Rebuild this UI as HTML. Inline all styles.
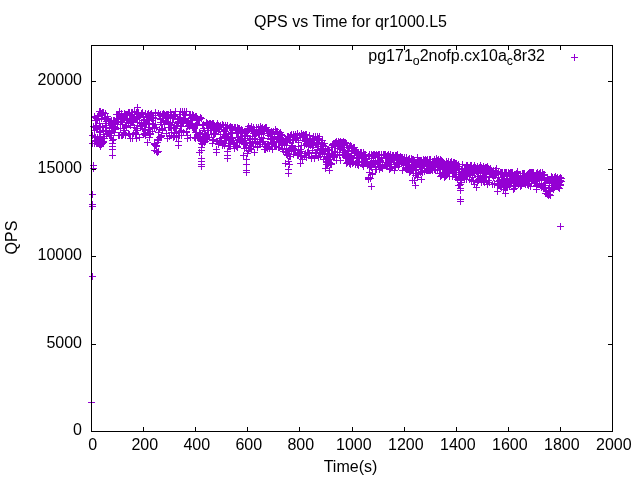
<!DOCTYPE html>
<html><head><meta charset="utf-8"><style>
html,body{margin:0;padding:0;background:#fff;width:640px;height:480px;overflow:hidden}
svg{display:block;will-change:transform}
text{font-family:"Liberation Sans",sans-serif;font-size:16px;fill:#000}
</style></head><body>
<svg width="640" height="480" viewBox="0 0 640 480">
<rect width="640" height="480" fill="#fff"/>
<path d="M90 126.5h7M93.5 123v7M91 116.5h7M94.5 113v7M91 143.5h7M94.5 140v7M91 117.5h7M94.5 114v7M91 130.5h7M94.5 127v7M92 127.5h7M95.5 124v7M92 120.5h7M95.5 117v7M92 137.5h7M95.5 134v7M92 126.5h7M95.5 123v7M93 128.5h7M96.5 125v7M93 118.5h7M96.5 115v7M93 125.5h7M96.5 122v7M93 129.5h7M96.5 126v7M94 137.5h7M97.5 134v7M94 116.5h7M97.5 113v7M94 119.5h7M97.5 116v7M95 141.5h7M98.5 138v7M95 115.5h7M98.5 112v7M95 116.5h7M98.5 113v7M95 116.5h7M98.5 113v7M96 144.5h7M99.5 141v7M96 123.5h7M99.5 120v7M96 132.5h7M99.5 129v7M96 111.5h7M99.5 108v7M97 146.5h7M100.5 143v7M97 131.5h7M100.5 128v7M97 111.5h7M100.5 108v7M97 127.5h7M100.5 124v7M98 118.5h7M101.5 115v7M98 114.5h7M101.5 111v7M98 144.5h7M101.5 141v7M98 113.5h7M101.5 110v7M99 114.5h7M102.5 111v7M99 126.5h7M102.5 123v7M99 112.5h7M102.5 109v7M99 114.5h7M102.5 111v7M100 112.5h7M103.5 109v7M100 130.5h7M103.5 127v7M100 134.5h7M103.5 131v7M101 117.5h7M104.5 114v7M101 138.5h7M104.5 135v7M101 118.5h7M104.5 115v7M101 117.5h7M104.5 114v7M102 113.5h7M105.5 110v7M102 119.5h7M105.5 116v7M102 131.5h7M105.5 128v7M102 123.5h7M105.5 120v7M103 127.5h7M106.5 124v7M103 134.5h7M106.5 131v7M103 125.5h7M106.5 122v7M103 121.5h7M106.5 118v7M104 133.5h7M107.5 130v7M104 116.5h7M107.5 113v7M104 118.5h7M107.5 115v7M104 118.5h7M107.5 115v7M105 121.5h7M108.5 118v7M105 133.5h7M108.5 130v7M105 120.5h7M108.5 117v7M105 119.5h7M108.5 116v7M106 121.5h7M109.5 118v7M106 135.5h7M109.5 132v7M106 128.5h7M109.5 125v7M106 135.5h7M109.5 132v7M107 133.5h7M110.5 130v7M107 135.5h7M110.5 132v7M107 121.5h7M110.5 118v7M108 122.5h7M111.5 119v7M108 120.5h7M111.5 117v7M108 131.5h7M111.5 128v7M108 135.5h7M111.5 132v7M109 123.5h7M112.5 120v7M109 123.5h7M112.5 120v7M109 130.5h7M112.5 127v7M109 125.5h7M112.5 122v7M110 126.5h7M113.5 123v7M110 120.5h7M113.5 117v7M110 139.5h7M113.5 136v7M110 127.5h7M113.5 124v7M111 120.5h7M114.5 117v7M111 129.5h7M114.5 126v7M111 132.5h7M114.5 129v7M111 128.5h7M114.5 125v7M112 129.5h7M115.5 126v7M112 123.5h7M115.5 120v7M112 122.5h7M115.5 119v7M112 127.5h7M115.5 124v7M113 121.5h7M116.5 118v7M113 114.5h7M116.5 111v7M113 118.5h7M116.5 115v7M114 124.5h7M117.5 121v7M114 119.5h7M117.5 116v7M114 114.5h7M117.5 111v7M114 119.5h7M117.5 116v7M115 121.5h7M118.5 118v7M115 121.5h7M118.5 118v7M115 114.5h7M118.5 111v7M115 135.5h7M118.5 132v7M116 135.5h7M119.5 132v7M116 111.5h7M119.5 108v7M116 114.5h7M119.5 111v7M116 115.5h7M119.5 112v7M117 122.5h7M120.5 119v7M117 116.5h7M120.5 113v7M117 128.5h7M120.5 125v7M117 119.5h7M120.5 116v7M118 135.5h7M121.5 132v7M118 114.5h7M121.5 111v7M118 121.5h7M121.5 118v7M118 113.5h7M121.5 110v7M119 118.5h7M122.5 115v7M119 124.5h7M122.5 121v7M119 135.5h7M122.5 132v7M120 132.5h7M123.5 129v7M120 118.5h7M123.5 115v7M120 134.5h7M123.5 131v7M120 128.5h7M123.5 125v7M121 114.5h7M124.5 111v7M121 113.5h7M124.5 110v7M121 130.5h7M124.5 127v7M121 119.5h7M124.5 116v7M122 133.5h7M125.5 130v7M122 135.5h7M125.5 132v7M122 125.5h7M125.5 122v7M122 114.5h7M125.5 111v7M123 127.5h7M126.5 124v7M123 126.5h7M126.5 123v7M123 119.5h7M126.5 116v7M123 114.5h7M126.5 111v7M124 114.5h7M127.5 111v7M124 120.5h7M127.5 117v7M124 114.5h7M127.5 111v7M124 118.5h7M127.5 115v7M125 112.5h7M128.5 109v7M125 123.5h7M128.5 120v7M125 133.5h7M128.5 130v7M126 134.5h7M129.5 131v7M126 120.5h7M129.5 117v7M126 118.5h7M129.5 115v7M126 112.5h7M129.5 109v7M127 115.5h7M130.5 112v7M127 138.5h7M130.5 135v7M127 119.5h7M130.5 116v7M127 125.5h7M130.5 122v7M128 112.5h7M131.5 109v7M128 121.5h7M131.5 118v7M128 118.5h7M131.5 115v7M128 112.5h7M131.5 109v7M129 138.5h7M132.5 135v7M129 112.5h7M132.5 109v7M129 117.5h7M132.5 114v7M129 122.5h7M132.5 119v7M130 117.5h7M133.5 114v7M130 122.5h7M133.5 119v7M130 133.5h7M133.5 130v7M130 118.5h7M133.5 115v7M131 111.5h7M134.5 108v7M131 127.5h7M134.5 124v7M131 117.5h7M134.5 114v7M132 119.5h7M135.5 116v7M132 132.5h7M135.5 129v7M132 134.5h7M135.5 131v7M132 133.5h7M135.5 130v7M133 112.5h7M136.5 109v7M133 118.5h7M136.5 115v7M133 119.5h7M136.5 116v7M133 128.5h7M136.5 125v7M134 125.5h7M137.5 122v7M134 107.5h7M137.5 104v7M134 118.5h7M137.5 115v7M134 130.5h7M137.5 127v7M135 112.5h7M138.5 109v7M135 112.5h7M138.5 109v7M135 113.5h7M138.5 110v7M135 114.5h7M138.5 111v7M136 122.5h7M139.5 119v7M136 117.5h7M139.5 114v7M136 117.5h7M139.5 114v7M136 137.5h7M139.5 134v7M137 115.5h7M140.5 112v7M137 125.5h7M140.5 122v7M137 115.5h7M140.5 112v7M137 126.5h7M140.5 123v7M138 123.5h7M141.5 120v7M138 113.5h7M141.5 110v7M138 126.5h7M141.5 123v7M139 128.5h7M142.5 125v7M139 112.5h7M142.5 109v7M139 126.5h7M142.5 123v7M139 125.5h7M142.5 122v7M140 116.5h7M143.5 113v7M140 120.5h7M143.5 117v7M140 134.5h7M143.5 131v7M140 117.5h7M143.5 114v7M141 133.5h7M144.5 130v7M141 129.5h7M144.5 126v7M141 119.5h7M144.5 116v7M141 129.5h7M144.5 126v7M142 113.5h7M145.5 110v7M142 124.5h7M145.5 121v7M142 130.5h7M145.5 127v7M142 135.5h7M145.5 132v7M143 121.5h7M146.5 118v7M143 124.5h7M146.5 121v7M143 120.5h7M146.5 117v7M143 120.5h7M146.5 117v7M144 132.5h7M147.5 129v7M144 119.5h7M147.5 116v7M144 114.5h7M147.5 111v7M145 116.5h7M148.5 113v7M145 123.5h7M148.5 120v7M145 113.5h7M148.5 110v7M145 129.5h7M148.5 126v7M146 127.5h7M149.5 124v7M146 119.5h7M149.5 116v7M146 115.5h7M149.5 112v7M146 137.5h7M149.5 134v7M147 134.5h7M150.5 131v7M147 131.5h7M150.5 128v7M147 133.5h7M150.5 130v7M147 114.5h7M150.5 111v7M148 115.5h7M151.5 112v7M148 113.5h7M151.5 110v7M148 113.5h7M151.5 110v7M148 118.5h7M151.5 115v7M149 120.5h7M152.5 117v7M149 131.5h7M152.5 128v7M149 123.5h7M152.5 120v7M149 117.5h7M152.5 114v7M150 117.5h7M153.5 114v7M150 124.5h7M153.5 121v7M150 118.5h7M153.5 115v7M151 150.5h7M154.5 147v7M151 128.5h7M154.5 125v7M151 144.5h7M154.5 141v7M151 143.5h7M154.5 140v7M152 112.5h7M155.5 109v7M152 124.5h7M155.5 121v7M152 118.5h7M155.5 115v7M152 145.5h7M155.5 142v7M153 146.5h7M156.5 143v7M153 127.5h7M156.5 124v7M153 151.5h7M156.5 148v7M153 145.5h7M156.5 142v7M154 152.5h7M157.5 149v7M154 152.5h7M157.5 149v7M154 142.5h7M157.5 139v7M154 139.5h7M157.5 136v7M155 140.5h7M158.5 137v7M155 151.5h7M158.5 148v7M155 132.5h7M158.5 129v7M155 113.5h7M158.5 110v7M156 115.5h7M159.5 112v7M156 137.5h7M159.5 134v7M156 129.5h7M159.5 126v7M157 137.5h7M160.5 134v7M157 114.5h7M160.5 111v7M157 119.5h7M160.5 116v7M157 122.5h7M160.5 119v7M158 136.5h7M161.5 133v7M158 124.5h7M161.5 121v7M158 136.5h7M161.5 133v7M158 135.5h7M161.5 132v7M159 128.5h7M162.5 125v7M159 114.5h7M162.5 111v7M159 129.5h7M162.5 126v7M159 130.5h7M162.5 127v7M160 113.5h7M163.5 110v7M160 120.5h7M163.5 117v7M160 116.5h7M163.5 113v7M160 118.5h7M163.5 115v7M161 115.5h7M164.5 112v7M161 124.5h7M164.5 121v7M161 114.5h7M164.5 111v7M161 115.5h7M164.5 112v7M162 115.5h7M165.5 112v7M162 115.5h7M165.5 112v7M162 121.5h7M165.5 118v7M163 118.5h7M166.5 115v7M163 114.5h7M166.5 111v7M163 115.5h7M166.5 112v7M163 133.5h7M166.5 130v7M164 115.5h7M167.5 112v7M164 138.5h7M167.5 135v7M164 118.5h7M167.5 115v7M164 114.5h7M167.5 111v7M165 127.5h7M168.5 124v7M165 122.5h7M168.5 119v7M165 114.5h7M168.5 111v7M165 123.5h7M168.5 120v7M166 136.5h7M169.5 133v7M166 124.5h7M169.5 121v7M166 127.5h7M169.5 124v7M166 124.5h7M169.5 121v7M167 118.5h7M170.5 115v7M167 112.5h7M170.5 109v7M167 127.5h7M170.5 124v7M167 116.5h7M170.5 113v7M168 114.5h7M171.5 111v7M168 132.5h7M171.5 129v7M168 135.5h7M171.5 132v7M168 127.5h7M171.5 124v7M169 122.5h7M172.5 119v7M169 122.5h7M172.5 119v7M169 117.5h7M172.5 114v7M170 127.5h7M173.5 124v7M170 118.5h7M173.5 115v7M170 115.5h7M173.5 112v7M170 137.5h7M173.5 134v7M171 133.5h7M174.5 130v7M171 114.5h7M174.5 111v7M171 127.5h7M174.5 124v7M171 136.5h7M174.5 133v7M172 128.5h7M175.5 125v7M172 114.5h7M175.5 111v7M172 116.5h7M175.5 113v7M172 111.5h7M175.5 108v7M173 125.5h7M176.5 122v7M173 132.5h7M176.5 129v7M173 132.5h7M176.5 129v7M173 137.5h7M176.5 134v7M174 119.5h7M177.5 116v7M174 118.5h7M177.5 115v7M174 123.5h7M177.5 120v7M174 118.5h7M177.5 115v7M175 121.5h7M178.5 118v7M175 135.5h7M178.5 132v7M175 119.5h7M178.5 116v7M176 135.5h7M179.5 132v7M176 131.5h7M179.5 128v7M176 119.5h7M179.5 116v7M176 114.5h7M179.5 111v7M177 122.5h7M180.5 119v7M177 117.5h7M180.5 114v7M177 126.5h7M180.5 123v7M177 111.5h7M180.5 108v7M178 130.5h7M181.5 127v7M178 122.5h7M181.5 119v7M178 123.5h7M181.5 120v7M178 135.5h7M181.5 132v7M179 123.5h7M182.5 120v7M179 123.5h7M182.5 120v7M179 112.5h7M182.5 109v7M179 111.5h7M182.5 108v7M180 114.5h7M183.5 111v7M180 123.5h7M183.5 120v7M180 132.5h7M183.5 129v7M180 118.5h7M183.5 115v7M181 118.5h7M184.5 115v7M181 111.5h7M184.5 108v7M181 118.5h7M184.5 115v7M182 115.5h7M185.5 112v7M182 114.5h7M185.5 111v7M182 120.5h7M185.5 117v7M182 119.5h7M185.5 116v7M183 132.5h7M186.5 129v7M183 131.5h7M186.5 128v7M183 123.5h7M186.5 120v7M183 111.5h7M186.5 108v7M184 122.5h7M187.5 119v7M184 135.5h7M187.5 132v7M184 138.5h7M187.5 135v7M184 126.5h7M187.5 123v7M185 121.5h7M188.5 118v7M185 122.5h7M188.5 119v7M185 125.5h7M188.5 122v7M185 120.5h7M188.5 117v7M186 114.5h7M189.5 111v7M186 126.5h7M189.5 123v7M186 115.5h7M189.5 112v7M186 123.5h7M189.5 120v7M187 114.5h7M190.5 111v7M187 120.5h7M190.5 117v7M187 137.5h7M190.5 134v7M188 124.5h7M191.5 121v7M188 124.5h7M191.5 121v7M188 117.5h7M191.5 114v7M188 124.5h7M191.5 121v7M189 127.5h7M192.5 124v7M189 114.5h7M192.5 111v7M189 118.5h7M192.5 115v7M189 120.5h7M192.5 117v7M190 115.5h7M193.5 112v7M190 115.5h7M193.5 112v7M190 128.5h7M193.5 125v7M190 116.5h7M193.5 113v7M191 137.5h7M194.5 134v7M191 128.5h7M194.5 125v7M191 127.5h7M194.5 124v7M191 117.5h7M194.5 114v7M192 116.5h7M195.5 113v7M192 132.5h7M195.5 129v7M192 125.5h7M195.5 122v7M192 138.5h7M195.5 135v7M193 116.5h7M196.5 113v7M193 132.5h7M196.5 129v7M193 123.5h7M196.5 120v7M194 137.5h7M197.5 134v7M194 118.5h7M197.5 115v7M194 124.5h7M197.5 121v7M194 120.5h7M197.5 117v7M195 120.5h7M198.5 117v7M195 138.5h7M198.5 135v7M195 120.5h7M198.5 117v7M195 136.5h7M198.5 133v7M196 132.5h7M199.5 129v7M196 119.5h7M199.5 116v7M196 152.5h7M199.5 149v7M196 138.5h7M199.5 135v7M197 117.5h7M200.5 114v7M197 137.5h7M200.5 134v7M197 139.5h7M200.5 136v7M197 133.5h7M200.5 130v7M198 143.5h7M201.5 140v7M198 118.5h7M201.5 115v7M198 150.5h7M201.5 147v7M198 147.5h7M201.5 144v7M199 134.5h7M202.5 131v7M199 140.5h7M202.5 137v7M199 125.5h7M202.5 122v7M199 144.5h7M202.5 141v7M200 124.5h7M203.5 121v7M200 125.5h7M203.5 122v7M200 128.5h7M203.5 125v7M201 133.5h7M204.5 130v7M201 136.5h7M204.5 133v7M201 142.5h7M204.5 139v7M201 130.5h7M204.5 127v7M202 134.5h7M205.5 131v7M202 141.5h7M205.5 138v7M202 141.5h7M205.5 138v7M202 137.5h7M205.5 134v7M203 122.5h7M206.5 119v7M203 135.5h7M206.5 132v7M203 124.5h7M206.5 121v7M203 138.5h7M206.5 135v7M204 130.5h7M207.5 127v7M204 123.5h7M207.5 120v7M204 139.5h7M207.5 136v7M204 134.5h7M207.5 131v7M205 130.5h7M208.5 127v7M205 124.5h7M208.5 121v7M205 134.5h7M208.5 131v7M205 134.5h7M208.5 131v7M206 137.5h7M209.5 134v7M206 123.5h7M209.5 120v7M206 125.5h7M209.5 122v7M207 123.5h7M210.5 120v7M207 130.5h7M210.5 127v7M207 124.5h7M210.5 121v7M207 127.5h7M210.5 124v7M208 125.5h7M211.5 122v7M208 127.5h7M211.5 124v7M208 134.5h7M211.5 131v7M208 124.5h7M211.5 121v7M209 127.5h7M212.5 124v7M209 140.5h7M212.5 137v7M209 123.5h7M212.5 120v7M209 143.5h7M212.5 140v7M210 129.5h7M213.5 126v7M210 123.5h7M213.5 120v7M210 133.5h7M213.5 130v7M210 139.5h7M213.5 136v7M211 130.5h7M214.5 127v7M211 127.5h7M214.5 124v7M211 134.5h7M214.5 131v7M211 125.5h7M214.5 122v7M212 129.5h7M215.5 126v7M212 126.5h7M215.5 123v7M212 133.5h7M215.5 130v7M213 131.5h7M216.5 128v7M213 141.5h7M216.5 138v7M213 129.5h7M216.5 126v7M213 125.5h7M216.5 122v7M214 123.5h7M217.5 120v7M214 125.5h7M217.5 122v7M214 128.5h7M217.5 125v7M214 141.5h7M217.5 138v7M215 125.5h7M218.5 122v7M215 144.5h7M218.5 141v7M215 129.5h7M218.5 126v7M215 144.5h7M218.5 141v7M216 140.5h7M219.5 137v7M216 129.5h7M219.5 126v7M216 127.5h7M219.5 124v7M216 126.5h7M219.5 123v7M217 141.5h7M220.5 138v7M217 125.5h7M220.5 122v7M217 138.5h7M220.5 135v7M217 134.5h7M220.5 131v7M218 127.5h7M221.5 124v7M218 141.5h7M221.5 138v7M218 127.5h7M221.5 124v7M219 144.5h7M222.5 141v7M219 124.5h7M222.5 121v7M219 145.5h7M222.5 142v7M219 144.5h7M222.5 141v7M220 131.5h7M223.5 128v7M220 143.5h7M223.5 140v7M220 127.5h7M223.5 124v7M220 125.5h7M223.5 122v7M221 130.5h7M224.5 127v7M221 145.5h7M224.5 142v7M221 136.5h7M224.5 133v7M221 137.5h7M224.5 134v7M222 125.5h7M225.5 122v7M222 135.5h7M225.5 132v7M222 131.5h7M225.5 128v7M222 143.5h7M225.5 140v7M223 127.5h7M226.5 124v7M223 140.5h7M226.5 137v7M223 138.5h7M226.5 135v7M223 133.5h7M226.5 130v7M224 136.5h7M227.5 133v7M224 128.5h7M227.5 125v7M224 125.5h7M227.5 122v7M225 146.5h7M228.5 143v7M225 134.5h7M228.5 131v7M225 137.5h7M228.5 134v7M225 139.5h7M228.5 136v7M226 146.5h7M229.5 143v7M226 127.5h7M229.5 124v7M226 127.5h7M229.5 124v7M226 143.5h7M229.5 140v7M227 126.5h7M230.5 123v7M227 139.5h7M230.5 136v7M227 133.5h7M230.5 130v7M227 146.5h7M230.5 143v7M228 127.5h7M231.5 124v7M228 141.5h7M231.5 138v7M228 132.5h7M231.5 129v7M228 133.5h7M231.5 130v7M229 132.5h7M232.5 129v7M229 138.5h7M232.5 135v7M229 138.5h7M232.5 135v7M229 127.5h7M232.5 124v7M230 144.5h7M233.5 141v7M230 142.5h7M233.5 139v7M230 142.5h7M233.5 139v7M230 140.5h7M233.5 137v7M231 148.5h7M234.5 145v7M231 143.5h7M234.5 140v7M231 127.5h7M234.5 124v7M232 129.5h7M235.5 126v7M232 128.5h7M235.5 125v7M232 127.5h7M235.5 124v7M232 130.5h7M235.5 127v7M233 146.5h7M236.5 143v7M233 133.5h7M236.5 130v7M233 145.5h7M236.5 142v7M233 130.5h7M236.5 127v7M234 147.5h7M237.5 144v7M234 127.5h7M237.5 124v7M234 137.5h7M237.5 134v7M234 146.5h7M237.5 143v7M235 128.5h7M238.5 125v7M235 132.5h7M238.5 129v7M235 139.5h7M238.5 136v7M235 133.5h7M238.5 130v7M236 141.5h7M239.5 138v7M236 128.5h7M239.5 125v7M236 130.5h7M239.5 127v7M236 142.5h7M239.5 139v7M237 131.5h7M240.5 128v7M237 132.5h7M240.5 129v7M237 138.5h7M240.5 135v7M238 140.5h7M241.5 137v7M238 129.5h7M241.5 126v7M238 130.5h7M241.5 127v7M238 131.5h7M241.5 128v7M239 139.5h7M242.5 136v7M239 130.5h7M242.5 127v7M239 133.5h7M242.5 130v7M239 136.5h7M242.5 133v7M240 141.5h7M243.5 138v7M240 143.5h7M243.5 140v7M240 142.5h7M243.5 139v7M240 155.5h7M243.5 152v7M241 135.5h7M244.5 132v7M241 148.5h7M244.5 145v7M241 133.5h7M244.5 130v7M241 144.5h7M244.5 141v7M242 143.5h7M245.5 140v7M242 131.5h7M245.5 128v7M242 131.5h7M245.5 128v7M242 140.5h7M245.5 137v7M243 148.5h7M246.5 145v7M243 147.5h7M246.5 144v7M243 132.5h7M246.5 129v7M244 135.5h7M247.5 132v7M244 136.5h7M247.5 133v7M244 128.5h7M247.5 125v7M244 153.5h7M247.5 150v7M245 150.5h7M248.5 147v7M245 150.5h7M248.5 147v7M245 130.5h7M248.5 127v7M245 126.5h7M248.5 123v7M246 138.5h7M249.5 135v7M246 148.5h7M249.5 145v7M246 145.5h7M249.5 142v7M246 128.5h7M249.5 125v7M247 128.5h7M250.5 125v7M247 139.5h7M250.5 136v7M247 142.5h7M250.5 139v7M247 148.5h7M250.5 145v7M248 149.5h7M251.5 146v7M248 129.5h7M251.5 126v7M248 146.5h7M251.5 143v7M248 126.5h7M251.5 123v7M249 136.5h7M252.5 133v7M249 141.5h7M252.5 138v7M249 129.5h7M252.5 126v7M250 129.5h7M253.5 126v7M250 146.5h7M253.5 143v7M250 127.5h7M253.5 124v7M250 133.5h7M253.5 130v7M251 152.5h7M254.5 149v7M251 129.5h7M254.5 126v7M251 133.5h7M254.5 130v7M251 138.5h7M254.5 135v7M252 133.5h7M255.5 130v7M252 143.5h7M255.5 140v7M252 133.5h7M255.5 130v7M252 139.5h7M255.5 136v7M253 132.5h7M256.5 129v7M253 127.5h7M256.5 124v7M253 129.5h7M256.5 126v7M253 133.5h7M256.5 130v7M254 147.5h7M257.5 144v7M254 132.5h7M257.5 129v7M254 142.5h7M257.5 139v7M254 146.5h7M257.5 143v7M255 130.5h7M258.5 127v7M255 127.5h7M258.5 124v7M255 133.5h7M258.5 130v7M256 134.5h7M259.5 131v7M256 144.5h7M259.5 141v7M256 141.5h7M259.5 138v7M256 133.5h7M259.5 130v7M257 141.5h7M260.5 138v7M257 126.5h7M260.5 123v7M257 144.5h7M260.5 141v7M257 130.5h7M260.5 127v7M258 128.5h7M261.5 125v7M258 130.5h7M261.5 127v7M258 137.5h7M261.5 134v7M258 129.5h7M261.5 126v7M259 142.5h7M262.5 139v7M259 131.5h7M262.5 128v7M259 127.5h7M262.5 124v7M259 127.5h7M262.5 124v7M260 141.5h7M263.5 138v7M260 138.5h7M263.5 135v7M260 129.5h7M263.5 126v7M260 133.5h7M263.5 130v7M261 128.5h7M264.5 125v7M261 146.5h7M264.5 143v7M261 149.5h7M264.5 146v7M261 131.5h7M264.5 128v7M262 149.5h7M265.5 146v7M262 146.5h7M265.5 143v7M262 127.5h7M265.5 124v7M263 127.5h7M266.5 124v7M263 146.5h7M266.5 143v7M263 127.5h7M266.5 124v7M263 147.5h7M266.5 144v7M264 148.5h7M267.5 145v7M264 147.5h7M267.5 144v7M264 144.5h7M267.5 141v7M264 131.5h7M267.5 128v7M265 131.5h7M268.5 128v7M265 144.5h7M268.5 141v7M265 130.5h7M268.5 127v7M265 135.5h7M268.5 132v7M266 132.5h7M269.5 129v7M266 146.5h7M269.5 143v7M266 147.5h7M269.5 144v7M266 148.5h7M269.5 145v7M267 138.5h7M270.5 135v7M267 132.5h7M270.5 129v7M267 139.5h7M270.5 136v7M267 136.5h7M270.5 133v7M268 143.5h7M271.5 140v7M268 131.5h7M271.5 128v7M268 136.5h7M271.5 133v7M269 136.5h7M272.5 133v7M269 133.5h7M272.5 130v7M269 149.5h7M272.5 146v7M269 142.5h7M272.5 139v7M270 131.5h7M273.5 128v7M270 143.5h7M273.5 140v7M270 139.5h7M273.5 136v7M270 131.5h7M273.5 128v7M271 134.5h7M274.5 131v7M271 138.5h7M274.5 135v7M271 142.5h7M274.5 139v7M271 146.5h7M274.5 143v7M272 129.5h7M275.5 126v7M272 131.5h7M275.5 128v7M272 146.5h7M275.5 143v7M272 131.5h7M275.5 128v7M273 142.5h7M276.5 139v7M273 131.5h7M276.5 128v7M273 142.5h7M276.5 139v7M273 146.5h7M276.5 143v7M274 138.5h7M277.5 135v7M274 136.5h7M277.5 133v7M274 131.5h7M277.5 128v7M275 137.5h7M278.5 134v7M275 142.5h7M278.5 139v7M275 147.5h7M278.5 144v7M275 141.5h7M278.5 138v7M276 147.5h7M279.5 144v7M276 142.5h7M279.5 139v7M276 139.5h7M279.5 136v7M276 133.5h7M279.5 130v7M277 135.5h7M280.5 132v7M277 132.5h7M280.5 129v7M277 142.5h7M280.5 139v7M277 141.5h7M280.5 138v7M278 143.5h7M281.5 140v7M278 142.5h7M281.5 139v7M278 135.5h7M281.5 132v7M278 134.5h7M281.5 131v7M279 138.5h7M282.5 135v7M279 140.5h7M282.5 137v7M279 149.5h7M282.5 146v7M279 148.5h7M282.5 145v7M280 151.5h7M283.5 148v7M280 141.5h7M283.5 138v7M280 140.5h7M283.5 137v7M281 145.5h7M284.5 142v7M281 143.5h7M284.5 140v7M281 144.5h7M284.5 141v7M281 142.5h7M284.5 139v7M282 142.5h7M285.5 139v7M282 138.5h7M285.5 135v7M282 152.5h7M285.5 149v7M282 163.5h7M285.5 160v7M283 148.5h7M286.5 145v7M283 154.5h7M286.5 151v7M283 140.5h7M286.5 137v7M283 152.5h7M286.5 149v7M284 136.5h7M287.5 133v7M284 151.5h7M287.5 148v7M284 140.5h7M287.5 137v7M284 155.5h7M287.5 152v7M285 161.5h7M288.5 158v7M285 139.5h7M288.5 136v7M285 136.5h7M288.5 133v7M285 150.5h7M288.5 147v7M286 164.5h7M289.5 161v7M286 156.5h7M289.5 153v7M286 140.5h7M289.5 137v7M287 140.5h7M290.5 137v7M287 135.5h7M290.5 132v7M287 135.5h7M290.5 132v7M287 156.5h7M290.5 153v7M288 151.5h7M291.5 148v7M288 134.5h7M291.5 131v7M288 145.5h7M291.5 142v7M288 149.5h7M291.5 146v7M289 139.5h7M292.5 136v7M289 147.5h7M292.5 144v7M289 146.5h7M292.5 143v7M289 145.5h7M292.5 142v7M290 154.5h7M293.5 151v7M290 140.5h7M293.5 137v7M290 148.5h7M293.5 145v7M290 134.5h7M293.5 131v7M291 137.5h7M294.5 134v7M291 136.5h7M294.5 133v7M291 149.5h7M294.5 146v7M291 137.5h7M294.5 134v7M292 134.5h7M295.5 131v7M292 137.5h7M295.5 134v7M292 138.5h7M295.5 135v7M292 150.5h7M295.5 147v7M293 137.5h7M296.5 134v7M293 138.5h7M296.5 135v7M293 137.5h7M296.5 134v7M294 137.5h7M297.5 134v7M294 133.5h7M297.5 130v7M294 153.5h7M297.5 150v7M294 155.5h7M297.5 152v7M295 142.5h7M298.5 139v7M295 146.5h7M298.5 143v7M295 155.5h7M298.5 152v7M295 140.5h7M298.5 137v7M296 135.5h7M299.5 132v7M296 152.5h7M299.5 149v7M296 153.5h7M299.5 150v7M296 135.5h7M299.5 132v7M297 137.5h7M300.5 134v7M297 156.5h7M300.5 153v7M297 149.5h7M300.5 146v7M297 156.5h7M300.5 153v7M298 156.5h7M301.5 153v7M298 133.5h7M301.5 130v7M298 151.5h7M301.5 148v7M298 145.5h7M301.5 142v7M299 159.5h7M302.5 156v7M299 135.5h7M302.5 132v7M299 136.5h7M302.5 133v7M300 134.5h7M303.5 131v7M300 134.5h7M303.5 131v7M300 136.5h7M303.5 133v7M300 135.5h7M303.5 132v7M301 135.5h7M304.5 132v7M301 145.5h7M304.5 142v7M301 136.5h7M304.5 133v7M301 155.5h7M304.5 152v7M302 134.5h7M305.5 131v7M302 153.5h7M305.5 150v7M302 141.5h7M305.5 138v7M302 140.5h7M305.5 137v7M303 157.5h7M306.5 154v7M303 144.5h7M306.5 141v7M303 134.5h7M306.5 131v7M303 143.5h7M306.5 140v7M304 140.5h7M307.5 137v7M304 139.5h7M307.5 136v7M304 141.5h7M307.5 138v7M304 152.5h7M307.5 149v7M305 141.5h7M308.5 138v7M305 152.5h7M308.5 149v7M305 146.5h7M308.5 143v7M306 141.5h7M309.5 138v7M306 153.5h7M309.5 150v7M306 135.5h7M309.5 132v7M306 138.5h7M309.5 135v7M307 138.5h7M310.5 135v7M307 139.5h7M310.5 136v7M307 140.5h7M310.5 137v7M307 145.5h7M310.5 142v7M308 156.5h7M311.5 153v7M308 157.5h7M311.5 154v7M308 143.5h7M311.5 140v7M308 158.5h7M311.5 155v7M309 150.5h7M312.5 147v7M309 147.5h7M312.5 144v7M309 143.5h7M312.5 140v7M309 139.5h7M312.5 136v7M310 139.5h7M313.5 136v7M310 145.5h7M313.5 142v7M310 136.5h7M313.5 133v7M310 140.5h7M313.5 137v7M311 142.5h7M314.5 139v7M311 158.5h7M314.5 155v7M311 140.5h7M314.5 137v7M312 136.5h7M315.5 133v7M312 155.5h7M315.5 152v7M312 136.5h7M315.5 133v7M312 152.5h7M315.5 149v7M313 153.5h7M316.5 150v7M313 144.5h7M316.5 141v7M313 152.5h7M316.5 149v7M313 139.5h7M316.5 136v7M314 136.5h7M317.5 133v7M314 143.5h7M317.5 140v7M314 142.5h7M317.5 139v7M314 149.5h7M317.5 146v7M315 157.5h7M318.5 154v7M315 146.5h7M318.5 143v7M315 157.5h7M318.5 154v7M315 138.5h7M318.5 135v7M316 138.5h7M319.5 135v7M316 153.5h7M319.5 150v7M316 139.5h7M319.5 136v7M316 136.5h7M319.5 133v7M317 146.5h7M320.5 143v7M317 156.5h7M320.5 153v7M317 152.5h7M320.5 149v7M318 143.5h7M321.5 140v7M318 148.5h7M321.5 145v7M318 142.5h7M321.5 139v7M318 150.5h7M321.5 147v7M319 140.5h7M322.5 137v7M319 151.5h7M322.5 148v7M319 153.5h7M322.5 150v7M319 144.5h7M322.5 141v7M320 150.5h7M323.5 147v7M320 150.5h7M323.5 147v7M320 159.5h7M323.5 156v7M320 145.5h7M323.5 142v7M321 143.5h7M324.5 140v7M321 151.5h7M324.5 148v7M321 154.5h7M324.5 151v7M321 153.5h7M324.5 150v7M322 148.5h7M325.5 145v7M322 149.5h7M325.5 146v7M322 146.5h7M325.5 143v7M322 159.5h7M325.5 156v7M323 156.5h7M326.5 153v7M323 161.5h7M326.5 158v7M323 164.5h7M326.5 161v7M323 158.5h7M326.5 155v7M324 149.5h7M327.5 146v7M324 162.5h7M327.5 159v7M324 164.5h7M327.5 161v7M325 161.5h7M328.5 158v7M325 163.5h7M328.5 160v7M325 156.5h7M328.5 153v7M325 150.5h7M328.5 147v7M326 159.5h7M329.5 156v7M326 150.5h7M329.5 147v7M326 162.5h7M329.5 159v7M326 155.5h7M329.5 152v7M327 163.5h7M330.5 160v7M327 164.5h7M330.5 161v7M327 157.5h7M330.5 154v7M327 156.5h7M330.5 153v7M328 163.5h7M331.5 160v7M328 164.5h7M331.5 161v7M328 153.5h7M331.5 150v7M328 147.5h7M331.5 144v7M329 147.5h7M332.5 144v7M329 144.5h7M332.5 141v7M329 155.5h7M332.5 152v7M329 145.5h7M332.5 142v7M330 154.5h7M333.5 151v7M330 157.5h7M333.5 154v7M330 143.5h7M333.5 140v7M331 151.5h7M334.5 148v7M331 157.5h7M334.5 154v7M331 143.5h7M334.5 140v7M331 156.5h7M334.5 153v7M332 146.5h7M335.5 143v7M332 142.5h7M335.5 139v7M332 142.5h7M335.5 139v7M332 152.5h7M335.5 149v7M333 142.5h7M336.5 139v7M333 160.5h7M336.5 157v7M333 141.5h7M336.5 138v7M333 160.5h7M336.5 157v7M334 154.5h7M337.5 151v7M334 144.5h7M337.5 141v7M334 143.5h7M337.5 140v7M334 148.5h7M337.5 145v7M335 145.5h7M338.5 142v7M335 143.5h7M338.5 140v7M335 141.5h7M338.5 138v7M335 141.5h7M338.5 138v7M336 154.5h7M339.5 151v7M336 155.5h7M339.5 152v7M336 142.5h7M339.5 139v7M337 160.5h7M340.5 157v7M337 141.5h7M340.5 138v7M337 149.5h7M340.5 146v7M337 149.5h7M340.5 146v7M338 142.5h7M341.5 139v7M338 147.5h7M341.5 144v7M338 144.5h7M341.5 141v7M338 146.5h7M341.5 143v7M339 152.5h7M342.5 149v7M339 149.5h7M342.5 146v7M339 142.5h7M342.5 139v7M339 150.5h7M342.5 147v7M340 141.5h7M343.5 138v7M340 147.5h7M343.5 144v7M340 154.5h7M343.5 151v7M340 147.5h7M343.5 144v7M341 150.5h7M344.5 147v7M341 142.5h7M344.5 139v7M341 147.5h7M344.5 144v7M341 142.5h7M344.5 139v7M342 157.5h7M345.5 154v7M342 142.5h7M345.5 139v7M342 156.5h7M345.5 153v7M343 143.5h7M346.5 140v7M343 158.5h7M346.5 155v7M343 154.5h7M346.5 151v7M343 163.5h7M346.5 160v7M344 147.5h7M347.5 144v7M344 162.5h7M347.5 159v7M344 151.5h7M347.5 148v7M344 155.5h7M347.5 152v7M345 150.5h7M348.5 147v7M345 158.5h7M348.5 155v7M345 161.5h7M348.5 158v7M345 151.5h7M348.5 148v7M346 146.5h7M349.5 143v7M346 156.5h7M349.5 153v7M346 163.5h7M349.5 160v7M346 148.5h7M349.5 145v7M347 161.5h7M350.5 158v7M347 145.5h7M350.5 142v7M347 156.5h7M350.5 153v7M347 164.5h7M350.5 161v7M348 158.5h7M351.5 155v7M348 153.5h7M351.5 150v7M348 146.5h7M351.5 143v7M349 148.5h7M352.5 145v7M349 163.5h7M352.5 160v7M349 158.5h7M352.5 155v7M349 150.5h7M352.5 147v7M350 162.5h7M353.5 159v7M350 150.5h7M353.5 147v7M350 147.5h7M353.5 144v7M350 150.5h7M353.5 147v7M351 155.5h7M354.5 152v7M351 151.5h7M354.5 148v7M351 150.5h7M354.5 147v7M351 147.5h7M354.5 144v7M352 164.5h7M355.5 161v7M352 163.5h7M355.5 160v7M352 150.5h7M355.5 147v7M352 164.5h7M355.5 161v7M353 153.5h7M356.5 150v7M353 157.5h7M356.5 154v7M353 151.5h7M356.5 148v7M353 153.5h7M356.5 150v7M354 164.5h7M357.5 161v7M354 154.5h7M357.5 151v7M354 161.5h7M357.5 158v7M354 152.5h7M357.5 149v7M355 152.5h7M358.5 149v7M355 161.5h7M358.5 158v7M355 165.5h7M358.5 162v7M356 156.5h7M359.5 153v7M356 155.5h7M359.5 152v7M356 158.5h7M359.5 155v7M356 162.5h7M359.5 159v7M357 152.5h7M360.5 149v7M357 154.5h7M360.5 151v7M357 153.5h7M360.5 150v7M357 152.5h7M360.5 149v7M358 153.5h7M361.5 150v7M358 161.5h7M361.5 158v7M358 154.5h7M361.5 151v7M358 152.5h7M361.5 149v7M359 158.5h7M362.5 155v7M359 155.5h7M362.5 152v7M359 164.5h7M362.5 161v7M359 158.5h7M362.5 155v7M360 166.5h7M363.5 163v7M360 152.5h7M363.5 149v7M360 157.5h7M363.5 154v7M360 154.5h7M363.5 151v7M361 155.5h7M364.5 152v7M361 154.5h7M364.5 151v7M361 161.5h7M364.5 158v7M362 156.5h7M365.5 153v7M362 162.5h7M365.5 159v7M362 158.5h7M365.5 155v7M362 154.5h7M365.5 151v7M363 162.5h7M366.5 159v7M363 163.5h7M366.5 160v7M363 159.5h7M366.5 156v7M363 161.5h7M366.5 158v7M364 164.5h7M367.5 161v7M364 161.5h7M367.5 158v7M364 162.5h7M367.5 159v7M364 165.5h7M367.5 162v7M365 179.5h7M368.5 176v7M365 178.5h7M368.5 175v7M365 177.5h7M368.5 174v7M365 156.5h7M368.5 153v7M366 164.5h7M369.5 161v7M366 166.5h7M369.5 163v7M366 172.5h7M369.5 169v7M366 154.5h7M369.5 151v7M367 166.5h7M370.5 163v7M367 163.5h7M370.5 160v7M367 166.5h7M370.5 163v7M368 154.5h7M371.5 151v7M368 167.5h7M371.5 164v7M368 163.5h7M371.5 160v7M368 158.5h7M371.5 155v7M369 173.5h7M372.5 170v7M369 174.5h7M372.5 171v7M369 163.5h7M372.5 160v7M369 155.5h7M372.5 152v7M370 162.5h7M373.5 159v7M370 154.5h7M373.5 151v7M370 164.5h7M373.5 161v7M370 156.5h7M373.5 153v7M371 155.5h7M374.5 152v7M371 154.5h7M374.5 151v7M371 164.5h7M374.5 161v7M371 154.5h7M374.5 151v7M372 169.5h7M375.5 166v7M372 155.5h7M375.5 152v7M372 163.5h7M375.5 160v7M372 160.5h7M375.5 157v7M373 169.5h7M376.5 166v7M373 169.5h7M376.5 166v7M373 154.5h7M376.5 151v7M374 155.5h7M377.5 152v7M374 164.5h7M377.5 161v7M374 155.5h7M377.5 152v7M374 161.5h7M377.5 158v7M375 166.5h7M378.5 163v7M375 155.5h7M378.5 152v7M375 154.5h7M378.5 151v7M375 162.5h7M378.5 159v7M376 155.5h7M379.5 152v7M376 154.5h7M379.5 151v7M376 169.5h7M379.5 166v7M376 161.5h7M379.5 158v7M377 162.5h7M380.5 159v7M377 167.5h7M380.5 164v7M377 161.5h7M380.5 158v7M377 160.5h7M380.5 157v7M378 158.5h7M381.5 155v7M378 167.5h7M381.5 164v7M378 158.5h7M381.5 155v7M378 154.5h7M381.5 151v7M379 165.5h7M382.5 162v7M379 162.5h7M382.5 159v7M379 166.5h7M382.5 163v7M379 168.5h7M382.5 165v7M380 155.5h7M383.5 152v7M380 154.5h7M383.5 151v7M380 155.5h7M383.5 152v7M381 155.5h7M384.5 152v7M381 154.5h7M384.5 151v7M381 155.5h7M384.5 152v7M381 154.5h7M384.5 151v7M382 165.5h7M385.5 162v7M382 154.5h7M385.5 151v7M382 157.5h7M385.5 154v7M382 164.5h7M385.5 161v7M383 166.5h7M386.5 163v7M383 156.5h7M386.5 153v7M383 166.5h7M386.5 163v7M383 162.5h7M386.5 159v7M384 163.5h7M387.5 160v7M384 156.5h7M387.5 153v7M384 166.5h7M387.5 163v7M384 155.5h7M387.5 152v7M385 160.5h7M388.5 157v7M385 154.5h7M388.5 151v7M385 158.5h7M388.5 155v7M385 156.5h7M388.5 153v7M386 169.5h7M389.5 166v7M386 164.5h7M389.5 161v7M386 156.5h7M389.5 153v7M387 154.5h7M390.5 151v7M387 154.5h7M390.5 151v7M387 168.5h7M390.5 165v7M387 162.5h7M390.5 159v7M388 157.5h7M391.5 154v7M388 166.5h7M391.5 163v7M388 164.5h7M391.5 161v7M388 158.5h7M391.5 155v7M389 159.5h7M392.5 156v7M389 155.5h7M392.5 152v7M389 158.5h7M392.5 155v7M389 155.5h7M392.5 152v7M390 155.5h7M393.5 152v7M390 155.5h7M393.5 152v7M390 160.5h7M393.5 157v7M390 155.5h7M393.5 152v7M391 157.5h7M394.5 154v7M391 164.5h7M394.5 161v7M391 158.5h7M394.5 155v7M391 170.5h7M394.5 167v7M392 155.5h7M395.5 152v7M392 167.5h7M395.5 164v7M392 155.5h7M395.5 152v7M393 162.5h7M396.5 159v7M393 157.5h7M396.5 154v7M393 155.5h7M396.5 152v7M393 158.5h7M396.5 155v7M394 158.5h7M397.5 155v7M394 154.5h7M397.5 151v7M394 156.5h7M397.5 153v7M394 163.5h7M397.5 160v7M395 162.5h7M398.5 159v7M395 166.5h7M398.5 163v7M395 158.5h7M398.5 155v7M395 159.5h7M398.5 156v7M396 157.5h7M399.5 154v7M396 157.5h7M399.5 154v7M396 164.5h7M399.5 161v7M396 158.5h7M399.5 155v7M397 156.5h7M400.5 153v7M397 158.5h7M400.5 155v7M397 159.5h7M400.5 156v7M397 156.5h7M400.5 153v7M398 163.5h7M401.5 160v7M398 157.5h7M401.5 154v7M398 161.5h7M401.5 158v7M399 162.5h7M402.5 159v7M399 157.5h7M402.5 154v7M399 161.5h7M402.5 158v7M399 170.5h7M402.5 167v7M400 164.5h7M403.5 161v7M400 163.5h7M403.5 160v7M400 161.5h7M403.5 158v7M400 164.5h7M403.5 161v7M401 160.5h7M404.5 157v7M401 161.5h7M404.5 158v7M401 157.5h7M404.5 154v7M401 162.5h7M404.5 159v7M402 168.5h7M405.5 165v7M402 167.5h7M405.5 164v7M402 161.5h7M405.5 158v7M402 168.5h7M405.5 165v7M403 158.5h7M406.5 155v7M403 157.5h7M406.5 154v7M403 169.5h7M406.5 166v7M403 164.5h7M406.5 161v7M404 161.5h7M407.5 158v7M404 161.5h7M407.5 158v7M404 162.5h7M407.5 159v7M405 159.5h7M408.5 156v7M405 164.5h7M408.5 161v7M405 165.5h7M408.5 162v7M405 159.5h7M408.5 156v7M406 158.5h7M409.5 155v7M406 172.5h7M409.5 169v7M406 166.5h7M409.5 163v7M406 158.5h7M409.5 155v7M407 170.5h7M410.5 167v7M407 171.5h7M410.5 168v7M407 170.5h7M410.5 167v7M407 168.5h7M410.5 165v7M408 159.5h7M411.5 156v7M408 165.5h7M411.5 162v7M408 169.5h7M411.5 166v7M408 158.5h7M411.5 155v7M409 161.5h7M412.5 158v7M409 159.5h7M412.5 156v7M409 180.5h7M412.5 177v7M409 160.5h7M412.5 157v7M410 173.5h7M413.5 170v7M410 162.5h7M413.5 159v7M410 164.5h7M413.5 161v7M410 159.5h7M413.5 156v7M411 180.5h7M414.5 177v7M411 163.5h7M414.5 160v7M411 166.5h7M414.5 163v7M412 170.5h7M415.5 167v7M412 163.5h7M415.5 160v7M412 175.5h7M415.5 172v7M412 167.5h7M415.5 164v7M413 169.5h7M416.5 166v7M413 166.5h7M416.5 163v7M413 173.5h7M416.5 170v7M413 169.5h7M416.5 166v7M414 162.5h7M417.5 159v7M414 177.5h7M417.5 174v7M414 163.5h7M417.5 160v7M414 157.5h7M417.5 154v7M415 161.5h7M418.5 158v7M415 174.5h7M418.5 171v7M415 162.5h7M418.5 159v7M415 161.5h7M418.5 158v7M416 162.5h7M419.5 159v7M416 165.5h7M419.5 162v7M416 160.5h7M419.5 157v7M416 162.5h7M419.5 159v7M417 161.5h7M420.5 158v7M417 172.5h7M420.5 169v7M417 167.5h7M420.5 164v7M418 171.5h7M421.5 168v7M418 163.5h7M421.5 160v7M418 160.5h7M421.5 157v7M418 167.5h7M421.5 164v7M419 172.5h7M422.5 169v7M419 171.5h7M422.5 168v7M419 171.5h7M422.5 168v7M419 168.5h7M422.5 165v7M420 163.5h7M423.5 160v7M420 164.5h7M423.5 161v7M420 163.5h7M423.5 160v7M420 159.5h7M423.5 156v7M421 160.5h7M424.5 157v7M421 165.5h7M424.5 162v7M421 166.5h7M424.5 163v7M421 171.5h7M424.5 168v7M422 161.5h7M425.5 158v7M422 159.5h7M425.5 156v7M422 163.5h7M425.5 160v7M422 160.5h7M425.5 157v7M423 170.5h7M426.5 167v7M423 162.5h7M426.5 159v7M423 160.5h7M426.5 157v7M424 159.5h7M427.5 156v7M424 170.5h7M427.5 167v7M424 169.5h7M427.5 166v7M424 161.5h7M427.5 158v7M425 162.5h7M428.5 159v7M425 164.5h7M428.5 161v7M425 165.5h7M428.5 162v7M425 170.5h7M428.5 167v7M426 166.5h7M429.5 163v7M426 170.5h7M429.5 167v7M426 170.5h7M429.5 167v7M426 159.5h7M429.5 156v7M427 159.5h7M430.5 156v7M427 164.5h7M430.5 161v7M427 159.5h7M430.5 156v7M427 170.5h7M430.5 167v7M428 168.5h7M431.5 165v7M428 167.5h7M431.5 164v7M428 166.5h7M431.5 163v7M428 169.5h7M431.5 166v7M429 170.5h7M432.5 167v7M429 161.5h7M432.5 158v7M429 167.5h7M432.5 164v7M430 163.5h7M433.5 160v7M430 166.5h7M433.5 163v7M430 167.5h7M433.5 164v7M430 161.5h7M433.5 158v7M431 169.5h7M434.5 166v7M431 162.5h7M434.5 159v7M431 165.5h7M434.5 162v7M431 159.5h7M434.5 156v7M432 170.5h7M435.5 167v7M432 163.5h7M435.5 160v7M432 170.5h7M435.5 167v7M432 161.5h7M435.5 158v7M433 160.5h7M436.5 157v7M433 158.5h7M436.5 155v7M433 159.5h7M436.5 156v7M433 161.5h7M436.5 158v7M434 170.5h7M437.5 167v7M434 160.5h7M437.5 157v7M434 166.5h7M437.5 163v7M434 163.5h7M437.5 160v7M435 164.5h7M438.5 161v7M435 159.5h7M438.5 156v7M435 160.5h7M438.5 157v7M436 166.5h7M439.5 163v7M436 173.5h7M439.5 170v7M436 162.5h7M439.5 159v7M436 173.5h7M439.5 170v7M437 159.5h7M440.5 156v7M437 176.5h7M440.5 173v7M437 169.5h7M440.5 166v7M437 168.5h7M440.5 165v7M438 160.5h7M441.5 157v7M438 175.5h7M441.5 172v7M438 165.5h7M441.5 162v7M438 166.5h7M441.5 163v7M439 173.5h7M442.5 170v7M439 168.5h7M442.5 165v7M439 161.5h7M442.5 158v7M439 161.5h7M442.5 158v7M440 162.5h7M443.5 159v7M440 172.5h7M443.5 169v7M440 167.5h7M443.5 164v7M440 164.5h7M443.5 161v7M441 168.5h7M444.5 165v7M441 177.5h7M444.5 174v7M441 176.5h7M444.5 173v7M441 176.5h7M444.5 173v7M442 168.5h7M445.5 165v7M442 176.5h7M445.5 173v7M442 166.5h7M445.5 163v7M443 164.5h7M446.5 161v7M443 161.5h7M446.5 158v7M443 169.5h7M446.5 166v7M443 175.5h7M446.5 172v7M444 163.5h7M447.5 160v7M444 168.5h7M447.5 165v7M444 163.5h7M447.5 160v7M444 172.5h7M447.5 169v7M445 161.5h7M448.5 158v7M445 172.5h7M448.5 169v7M445 164.5h7M448.5 161v7M445 172.5h7M448.5 169v7M446 165.5h7M449.5 162v7M446 171.5h7M449.5 168v7M446 168.5h7M449.5 165v7M446 176.5h7M449.5 173v7M447 162.5h7M450.5 159v7M447 168.5h7M450.5 165v7M447 168.5h7M450.5 165v7M447 165.5h7M450.5 162v7M448 170.5h7M451.5 167v7M448 161.5h7M451.5 158v7M448 165.5h7M451.5 162v7M449 173.5h7M452.5 170v7M449 176.5h7M452.5 173v7M449 167.5h7M452.5 164v7M449 169.5h7M452.5 166v7M450 162.5h7M453.5 159v7M450 173.5h7M453.5 170v7M450 165.5h7M453.5 162v7M450 169.5h7M453.5 166v7M451 162.5h7M454.5 159v7M451 164.5h7M454.5 161v7M451 167.5h7M454.5 164v7M451 172.5h7M454.5 169v7M452 168.5h7M455.5 165v7M452 174.5h7M455.5 171v7M452 163.5h7M455.5 160v7M452 177.5h7M455.5 174v7M453 177.5h7M456.5 174v7M453 170.5h7M456.5 167v7M453 164.5h7M456.5 161v7M453 163.5h7M456.5 160v7M454 179.5h7M457.5 176v7M454 166.5h7M457.5 163v7M454 166.5h7M457.5 163v7M455 176.5h7M458.5 173v7M455 169.5h7M458.5 166v7M455 185.5h7M458.5 182v7M455 164.5h7M458.5 161v7M456 174.5h7M459.5 171v7M456 166.5h7M459.5 163v7M456 185.5h7M459.5 182v7M456 176.5h7M459.5 173v7M457 174.5h7M460.5 171v7M457 180.5h7M460.5 177v7M457 184.5h7M460.5 181v7M457 176.5h7M460.5 173v7M458 182.5h7M461.5 179v7M458 179.5h7M461.5 176v7M458 172.5h7M461.5 169v7M458 169.5h7M461.5 166v7M459 175.5h7M462.5 172v7M459 164.5h7M462.5 161v7M459 168.5h7M462.5 165v7M459 168.5h7M462.5 165v7M460 175.5h7M463.5 172v7M460 175.5h7M463.5 172v7M460 171.5h7M463.5 168v7M461 177.5h7M464.5 174v7M461 177.5h7M464.5 174v7M461 172.5h7M464.5 169v7M461 178.5h7M464.5 175v7M462 169.5h7M465.5 166v7M462 176.5h7M465.5 173v7M462 172.5h7M465.5 169v7M462 176.5h7M465.5 173v7M463 172.5h7M466.5 169v7M463 169.5h7M466.5 166v7M463 165.5h7M466.5 162v7M463 179.5h7M466.5 176v7M464 166.5h7M467.5 163v7M464 174.5h7M467.5 171v7M464 165.5h7M467.5 162v7M464 167.5h7M467.5 164v7M465 171.5h7M468.5 168v7M465 172.5h7M468.5 169v7M465 167.5h7M468.5 164v7M465 170.5h7M468.5 167v7M466 167.5h7M469.5 164v7M466 179.5h7M469.5 176v7M466 167.5h7M469.5 164v7M467 168.5h7M470.5 165v7M467 174.5h7M470.5 171v7M467 174.5h7M470.5 171v7M467 165.5h7M470.5 162v7M468 167.5h7M471.5 164v7M468 180.5h7M471.5 177v7M468 166.5h7M471.5 163v7M468 165.5h7M471.5 162v7M469 173.5h7M472.5 170v7M469 173.5h7M472.5 170v7M469 175.5h7M472.5 172v7M469 177.5h7M472.5 174v7M470 181.5h7M473.5 178v7M470 172.5h7M473.5 169v7M470 167.5h7M473.5 164v7M470 169.5h7M473.5 166v7M471 184.5h7M474.5 181v7M471 165.5h7M474.5 162v7M471 171.5h7M474.5 168v7M471 169.5h7M474.5 166v7M472 169.5h7M475.5 166v7M472 169.5h7M475.5 166v7M472 167.5h7M475.5 164v7M472 169.5h7M475.5 166v7M473 187.5h7M476.5 184v7M473 171.5h7M476.5 168v7M473 169.5h7M476.5 166v7M474 168.5h7M477.5 165v7M474 176.5h7M477.5 173v7M474 182.5h7M477.5 179v7M474 166.5h7M477.5 163v7M475 173.5h7M478.5 170v7M475 169.5h7M478.5 166v7M475 180.5h7M478.5 177v7M475 179.5h7M478.5 176v7M476 167.5h7M479.5 164v7M476 167.5h7M479.5 164v7M476 178.5h7M479.5 175v7M476 167.5h7M479.5 164v7M477 169.5h7M480.5 166v7M477 165.5h7M480.5 162v7M477 177.5h7M480.5 174v7M477 172.5h7M480.5 169v7M478 170.5h7M481.5 167v7M478 178.5h7M481.5 175v7M478 167.5h7M481.5 164v7M478 182.5h7M481.5 179v7M479 171.5h7M482.5 168v7M479 177.5h7M482.5 174v7M479 168.5h7M482.5 165v7M480 166.5h7M483.5 163v7M480 181.5h7M483.5 178v7M480 167.5h7M483.5 164v7M480 175.5h7M483.5 172v7M481 172.5h7M484.5 169v7M481 171.5h7M484.5 168v7M481 182.5h7M484.5 179v7M481 168.5h7M484.5 165v7M482 176.5h7M485.5 173v7M482 167.5h7M485.5 164v7M482 169.5h7M485.5 166v7M482 169.5h7M485.5 166v7M483 180.5h7M486.5 177v7M483 167.5h7M486.5 164v7M483 171.5h7M486.5 168v7M483 167.5h7M486.5 164v7M484 168.5h7M487.5 165v7M484 184.5h7M487.5 181v7M484 170.5h7M487.5 167v7M484 166.5h7M487.5 163v7M485 180.5h7M488.5 177v7M485 171.5h7M488.5 168v7M485 168.5h7M488.5 165v7M486 182.5h7M489.5 179v7M486 177.5h7M489.5 174v7M486 174.5h7M489.5 171v7M486 177.5h7M489.5 174v7M487 173.5h7M490.5 170v7M487 168.5h7M490.5 165v7M487 169.5h7M490.5 166v7M487 169.5h7M490.5 166v7M488 174.5h7M491.5 171v7M488 172.5h7M491.5 169v7M488 174.5h7M491.5 171v7M488 170.5h7M491.5 167v7M489 171.5h7M492.5 168v7M489 175.5h7M492.5 172v7M489 184.5h7M492.5 181v7M489 172.5h7M492.5 169v7M490 176.5h7M493.5 173v7M490 175.5h7M493.5 172v7M490 170.5h7M493.5 167v7M490 177.5h7M493.5 174v7M491 175.5h7M494.5 172v7M491 183.5h7M494.5 180v7M491 184.5h7M494.5 181v7M492 175.5h7M495.5 172v7M492 174.5h7M495.5 171v7M492 170.5h7M495.5 167v7M492 173.5h7M495.5 170v7M493 174.5h7M496.5 171v7M493 172.5h7M496.5 169v7M493 168.5h7M496.5 165v7M493 171.5h7M496.5 168v7M494 184.5h7M497.5 181v7M494 181.5h7M497.5 178v7M494 185.5h7M497.5 182v7M494 183.5h7M497.5 180v7M495 185.5h7M498.5 182v7M495 177.5h7M498.5 174v7M495 173.5h7M498.5 170v7M495 172.5h7M498.5 169v7M496 183.5h7M499.5 180v7M496 185.5h7M499.5 182v7M496 180.5h7M499.5 177v7M496 180.5h7M499.5 177v7M497 185.5h7M500.5 182v7M497 172.5h7M500.5 169v7M497 174.5h7M500.5 171v7M498 172.5h7M501.5 169v7M498 180.5h7M501.5 177v7M498 179.5h7M501.5 176v7M498 187.5h7M501.5 184v7M499 181.5h7M502.5 178v7M499 182.5h7M502.5 179v7M499 174.5h7M502.5 171v7M499 172.5h7M502.5 169v7M500 181.5h7M503.5 178v7M500 176.5h7M503.5 173v7M500 186.5h7M503.5 183v7M500 189.5h7M503.5 186v7M501 178.5h7M504.5 175v7M501 181.5h7M504.5 178v7M501 172.5h7M504.5 169v7M501 187.5h7M504.5 184v7M502 185.5h7M505.5 182v7M502 185.5h7M505.5 182v7M502 182.5h7M505.5 179v7M502 172.5h7M505.5 169v7M503 172.5h7M506.5 169v7M503 179.5h7M506.5 176v7M503 186.5h7M506.5 183v7M503 187.5h7M506.5 184v7M504 184.5h7M507.5 181v7M504 187.5h7M507.5 184v7M504 178.5h7M507.5 175v7M505 173.5h7M508.5 170v7M505 173.5h7M508.5 170v7M505 172.5h7M508.5 169v7M505 184.5h7M508.5 181v7M506 175.5h7M509.5 172v7M506 173.5h7M509.5 170v7M506 185.5h7M509.5 182v7M506 186.5h7M509.5 183v7M507 172.5h7M510.5 169v7M507 180.5h7M510.5 177v7M507 179.5h7M510.5 176v7M507 174.5h7M510.5 171v7M508 172.5h7M511.5 169v7M508 173.5h7M511.5 170v7M508 175.5h7M511.5 172v7M508 181.5h7M511.5 178v7M509 172.5h7M512.5 169v7M509 176.5h7M512.5 173v7M509 175.5h7M512.5 172v7M509 174.5h7M512.5 171v7M510 176.5h7M513.5 173v7M510 189.5h7M513.5 186v7M510 183.5h7M513.5 180v7M511 176.5h7M514.5 173v7M511 186.5h7M514.5 183v7M511 174.5h7M514.5 171v7M511 178.5h7M514.5 175v7M512 185.5h7M515.5 182v7M512 182.5h7M515.5 179v7M512 176.5h7M515.5 173v7M512 174.5h7M515.5 171v7M513 178.5h7M516.5 175v7M513 173.5h7M516.5 170v7M513 179.5h7M516.5 176v7M513 173.5h7M516.5 170v7M514 171.5h7M517.5 168v7M514 172.5h7M517.5 169v7M514 180.5h7M517.5 177v7M514 183.5h7M517.5 180v7M515 184.5h7M518.5 181v7M515 181.5h7M518.5 178v7M515 175.5h7M518.5 172v7M515 182.5h7M518.5 179v7M516 180.5h7M519.5 177v7M516 183.5h7M519.5 180v7M516 179.5h7M519.5 176v7M517 177.5h7M520.5 174v7M517 180.5h7M520.5 177v7M517 180.5h7M520.5 177v7M517 175.5h7M520.5 172v7M518 178.5h7M521.5 175v7M518 182.5h7M521.5 179v7M518 179.5h7M521.5 176v7M518 185.5h7M521.5 182v7M519 183.5h7M522.5 180v7M519 178.5h7M522.5 175v7M519 173.5h7M522.5 170v7M519 178.5h7M522.5 175v7M520 173.5h7M523.5 170v7M520 179.5h7M523.5 176v7M520 176.5h7M523.5 173v7M520 179.5h7M523.5 176v7M521 173.5h7M524.5 170v7M521 177.5h7M524.5 174v7M521 183.5h7M524.5 180v7M521 175.5h7M524.5 172v7M522 176.5h7M525.5 173v7M522 184.5h7M525.5 181v7M522 179.5h7M525.5 176v7M523 179.5h7M526.5 176v7M523 175.5h7M526.5 172v7M523 180.5h7M526.5 177v7M523 175.5h7M526.5 172v7M524 184.5h7M527.5 181v7M524 174.5h7M527.5 171v7M524 178.5h7M527.5 175v7M524 178.5h7M527.5 175v7M525 177.5h7M528.5 174v7M525 175.5h7M528.5 172v7M525 173.5h7M528.5 170v7M525 185.5h7M528.5 182v7M526 172.5h7M529.5 169v7M526 174.5h7M529.5 171v7M526 183.5h7M529.5 180v7M526 180.5h7M529.5 177v7M527 172.5h7M530.5 169v7M527 175.5h7M530.5 172v7M527 178.5h7M530.5 175v7M527 186.5h7M530.5 183v7M528 181.5h7M531.5 178v7M528 172.5h7M531.5 169v7M528 173.5h7M531.5 170v7M529 179.5h7M532.5 176v7M529 172.5h7M532.5 169v7M529 180.5h7M532.5 177v7M529 172.5h7M532.5 169v7M530 172.5h7M533.5 169v7M530 173.5h7M533.5 170v7M530 179.5h7M533.5 176v7M530 180.5h7M533.5 177v7M531 183.5h7M534.5 180v7M531 175.5h7M534.5 172v7M531 177.5h7M534.5 174v7M531 183.5h7M534.5 180v7M532 176.5h7M535.5 173v7M532 176.5h7M535.5 173v7M532 181.5h7M535.5 178v7M532 180.5h7M535.5 177v7M533 185.5h7M536.5 182v7M533 176.5h7M536.5 173v7M533 186.5h7M536.5 183v7M533 173.5h7M536.5 170v7M534 180.5h7M537.5 177v7M534 172.5h7M537.5 169v7M534 184.5h7M537.5 181v7M534 177.5h7M537.5 174v7M535 175.5h7M538.5 172v7M535 174.5h7M538.5 171v7M535 177.5h7M538.5 174v7M536 173.5h7M539.5 170v7M536 183.5h7M539.5 180v7M536 179.5h7M539.5 176v7M536 173.5h7M539.5 170v7M537 172.5h7M540.5 169v7M537 175.5h7M540.5 172v7M537 172.5h7M540.5 169v7M537 175.5h7M540.5 172v7M538 187.5h7M541.5 184v7M538 179.5h7M541.5 176v7M538 187.5h7M541.5 184v7M538 177.5h7M541.5 174v7M539 177.5h7M542.5 174v7M539 186.5h7M542.5 183v7M539 172.5h7M542.5 169v7M539 172.5h7M542.5 169v7M540 188.5h7M543.5 185v7M540 185.5h7M543.5 182v7M540 174.5h7M543.5 171v7M540 175.5h7M543.5 172v7M541 183.5h7M544.5 180v7M541 187.5h7M544.5 184v7M541 174.5h7M544.5 171v7M542 185.5h7M545.5 182v7M542 180.5h7M545.5 177v7M542 187.5h7M545.5 184v7M542 193.5h7M545.5 190v7M543 180.5h7M546.5 177v7M543 193.5h7M546.5 190v7M543 193.5h7M546.5 190v7M543 191.5h7M546.5 188v7M544 194.5h7M547.5 191v7M544 194.5h7M547.5 191v7M544 178.5h7M547.5 175v7M544 194.5h7M547.5 191v7M545 180.5h7M548.5 177v7M545 190.5h7M548.5 187v7M545 191.5h7M548.5 188v7M545 188.5h7M548.5 185v7M546 187.5h7M549.5 184v7M546 191.5h7M549.5 188v7M546 194.5h7M549.5 191v7M546 182.5h7M549.5 179v7M547 195.5h7M550.5 192v7M547 179.5h7M550.5 176v7M547 179.5h7M550.5 176v7M548 187.5h7M551.5 184v7M548 188.5h7M551.5 185v7M548 177.5h7M551.5 174v7M548 176.5h7M551.5 173v7M549 183.5h7M552.5 180v7M549 185.5h7M552.5 182v7M549 188.5h7M552.5 185v7M549 177.5h7M552.5 174v7M550 183.5h7M553.5 180v7M550 182.5h7M553.5 179v7M550 189.5h7M553.5 186v7M550 183.5h7M553.5 180v7M551 180.5h7M554.5 177v7M551 187.5h7M554.5 184v7M551 181.5h7M554.5 178v7M551 177.5h7M554.5 174v7M552 176.5h7M555.5 173v7M552 185.5h7M555.5 182v7M552 177.5h7M555.5 174v7M552 181.5h7M555.5 178v7M553 182.5h7M556.5 179v7M553 180.5h7M556.5 177v7M553 178.5h7M556.5 175v7M554 186.5h7M557.5 183v7M554 179.5h7M557.5 176v7M554 177.5h7M557.5 174v7M554 184.5h7M557.5 181v7M555 179.5h7M558.5 176v7M555 179.5h7M558.5 176v7M555 182.5h7M558.5 179v7M555 187.5h7M558.5 184v7M556 184.5h7M559.5 181v7M556 185.5h7M559.5 182v7M556 178.5h7M559.5 175v7M556 182.5h7M559.5 179v7M557 185.5h7M560.5 182v7M557 184.5h7M560.5 181v7M557 180.5h7M560.5 177v7M557 177.5h7M560.5 174v7M558 178.5h7M561.5 175v7M558 181.5h7M561.5 178v7M133 138.5h7M136.5 135v7M144 142.5h7M147.5 139v7M175 141.5h7M178.5 138v7M175 145.5h7M178.5 142v7M213 149.5h7M216.5 146v7M213 152.5h7M216.5 149v7M224 151.5h7M227.5 148v7M224 155.5h7M227.5 152v7M224 158.5h7M227.5 155v7M109 140.5h7M112.5 137v7M109 143.5h7M112.5 140v7M109 146.5h7M112.5 143v7M109 149.5h7M112.5 146v7M109 155.5h7M112.5 152v7M198 158.5h7M201.5 155v7M198 161.5h7M201.5 158v7M198 164.5h7M201.5 161v7M198 166.5h7M201.5 163v7M243 159.5h7M246.5 156v7M243 164.5h7M246.5 161v7M243 170.5h7M246.5 167v7M243 172.5h7M246.5 169v7M285 169.5h7M288.5 166v7M285 173.5h7M288.5 170v7M297 163.5h7M300.5 160v7M322 168.5h7M325.5 165v7M326 170.5h7M329.5 167v7M367 178.5h7M370.5 175v7M368 186.5h7M371.5 183v7M412 185.5h7M415.5 182v7M418 179.5h7M421.5 176v7M457 188.5h7M460.5 185v7M457 190.5h7M460.5 187v7M457 199.5h7M460.5 196v7M457 201.5h7M460.5 198v7M494 191.5h7M497.5 188v7M502 193.5h7M505.5 190v7M511 188.5h7M514.5 185v7M517 186.5h7M520.5 183v7M545 195.5h7M548.5 192v7M533 189.5h7M536.5 186v7M556 188.5h7M559.5 185v7M557 226.5h7M560.5 223v7M89 135.5h7M92.5 132v7M89 143.5h7M92.5 140v7M90 165.5h7M93.5 162v7M90 168.5h7M93.5 165v7M89 194.5h7M92.5 191v7M89 204.5h7M92.5 201v7M89 206.5h7M92.5 203v7M89 276.5h7M92.5 273v7M88 402.5h7M91.5 399v7M94 143.5h7M97.5 140v7M97 138.5h7M100.5 135v7M97 136.5h7M100.5 133v7M96 140.5h7M99.5 137v7M91 141.5h7M94.5 138v7M91 137.5h7M94.5 134v7M98 139.5h7M101.5 136v7M98 140.5h7M101.5 137v7M95 140.5h7M98.5 137v7M91 136.5h7M94.5 133v7M100 141.5h7M103.5 138v7M92 141.5h7M95.5 138v7M100 142.5h7M103.5 139v7M97 140.5h7M100.5 137v7M97 137.5h7M100.5 134v7M95 143.5h7M98.5 140v7M94 138.5h7M97.5 135v7M96 142.5h7M99.5 139v7M99 143.5h7M102.5 140v7M100 136.5h7M103.5 133v7M95 140.5h7M98.5 137v7M97 136.5h7M100.5 133v7M94 139.5h7M97.5 136v7M97 138.5h7M100.5 135v7M94 137.5h7M97.5 134v7M97 138.5h7M100.5 135v7M93 143.5h7M96.5 140v7M94 138.5h7M97.5 135v7M91 140.5h7M94.5 137v7M94 140.5h7M97.5 137v7" stroke="#9400d3" stroke-width="1" fill="none"/>
<path d="M571 57.5h7M574.5 54v7" stroke="#9400d3" stroke-width="1" fill="none"/>
<path d="M91.5 431v-4M91.5 45v5M143.5 431v-4M143.5 45v5M195.5 431v-4M195.5 45v5M247.5 431v-4M247.5 45v5M299.5 431v-4M299.5 45v5M352.5 431v-4M352.5 45v5M404.5 431v-4M404.5 45v5M456.5 431v-4M456.5 45v5M508.5 431v-4M508.5 45v5M560.5 431v-4M560.5 45v5M612.5 431v-4M612.5 45v5M91 431.5h5M612 431.5h-4M91 344.5h5M612 344.5h-4M91 256.5h5M612 256.5h-4M91 169.5h5M612 169.5h-4M91 81.5h5M612 81.5h-4" stroke="#000" stroke-width="1" fill="none"/>
<rect x="91.5" y="45.5" width="521" height="386" stroke="#000" stroke-width="1" fill="none"/>
<text x="350.5" y="27" text-anchor="middle">QPS vs Time for qr1000.L5</text>
<text x="82" y="435" text-anchor="end">0</text><text x="82" y="348" text-anchor="end">5000</text><text x="82" y="260" text-anchor="end">10000</text><text x="82" y="173" text-anchor="end">15000</text><text x="82" y="85" text-anchor="end">20000</text>
<text x="92.8" y="450" text-anchor="middle">0</text><text x="144.8" y="450" text-anchor="middle">200</text><text x="196.8" y="450" text-anchor="middle">400</text><text x="248.8" y="450" text-anchor="middle">600</text><text x="300.8" y="450" text-anchor="middle">800</text><text x="353.8" y="450" text-anchor="middle">1000</text><text x="405.8" y="450" text-anchor="middle">1200</text><text x="457.8" y="450" text-anchor="middle">1400</text><text x="509.8" y="450" text-anchor="middle">1600</text><text x="561.8" y="450" text-anchor="middle">1800</text><text x="613.8" y="450" text-anchor="middle">2000</text>
<text x="350.5" y="472" text-anchor="middle">Time(s)</text>
<text transform="translate(17,237.5) rotate(-90)" text-anchor="middle">QPS</text>
<text x="545" y="61" text-anchor="end">pg171<tspan font-size="12.3" dy="3.8">o</tspan><tspan dy="-3.8">2nofp.cx10a</tspan><tspan font-size="12.3" dy="3.8">c</tspan><tspan dy="-3.8">8r32</tspan></text>
</svg>
</body></html>
